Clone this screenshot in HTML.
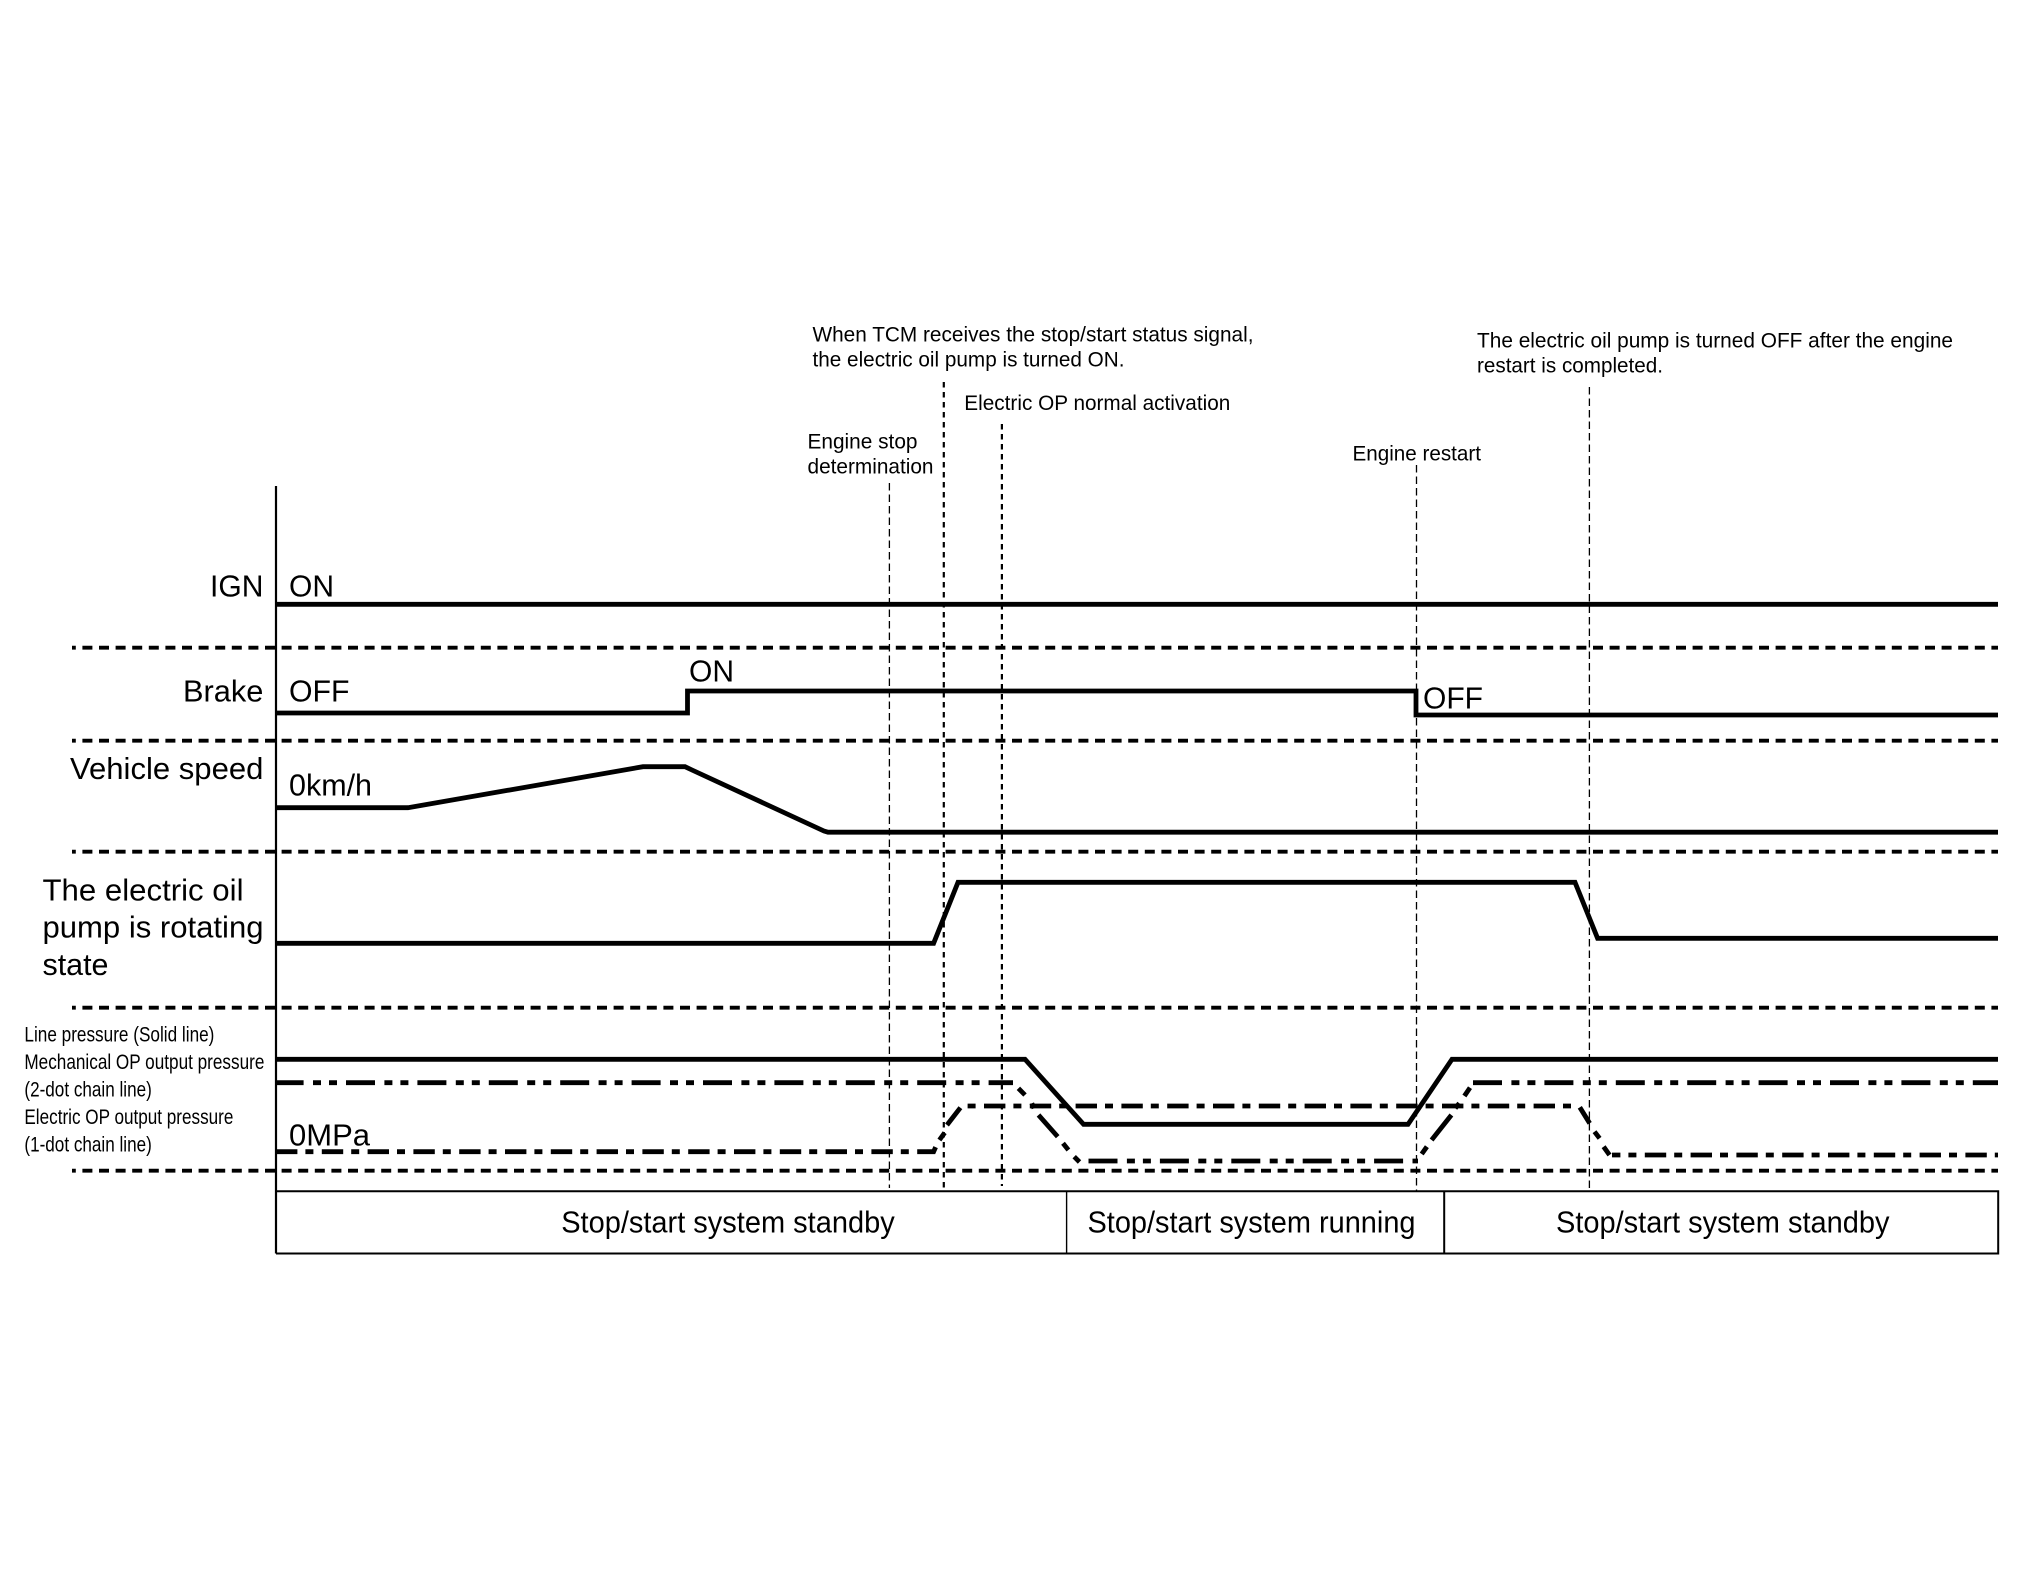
<!DOCTYPE html>
<html>
<head>
<meta charset="utf-8">
<title>Stop/start timing chart</title>
<style>
html,body{margin:0;padding:0;background:#fff}
svg{display:block}
text{font-family:"Liberation Sans",Arial,sans-serif;fill:#000}
.l{font-size:31px}
.m{font-size:21.5px}
.s{font-size:21.5px}
.t{fill:none;stroke:#000;stroke-width:4.8;stroke-linejoin:miter}
.h{fill:none;stroke:#000;stroke-width:3.8;stroke-dasharray:10 6.6}
.v1{fill:none;stroke:#000;stroke-width:1.3;stroke-dasharray:7.5 4}
.v2{fill:none;stroke:#000;stroke-width:2.2;stroke-dasharray:5.5 4.5}
.d2{stroke-dasharray:29 9.4 8 8 8 9}
.d1{stroke-dasharray:21.4 8 8 8.4}
</style>
</head>
<body>
<svg width="2020" height="1571" viewBox="0 0 2020 1571" xmlns="http://www.w3.org/2000/svg">
<rect width="2020" height="1571" fill="#fff"/>

<!-- dashed separators -->
<path class="h" stroke-dashoffset="6.2" d="M72 647.7H1998"/>
<path class="h" stroke-dashoffset="6.2" d="M72 740.7H1998"/>
<path class="h" stroke-dashoffset="6.2" d="M72 851.7H1998"/>
<path class="h" stroke-dashoffset="6.2" d="M72 1007.7H1998"/>
<path class="h" stroke-dashoffset="6.2" d="M72 1170.7H1998"/>

<!-- vertical markers -->
<path class="v1" d="M889.4 483V1188"/>
<path class="v2" d="M943.8 382V1191"/>
<path class="v2" d="M1001.9 424V1186"/>
<path class="v1" d="M1416.5 465V1191"/>
<path class="v1" d="M1589.4 387V1191"/>

<!-- axis and bottom box -->
<path d="M276 486V1253.5" stroke="#000" stroke-width="2.2" fill="none"/>
<path d="M276 1191.3H1998.2V1253.5H276" stroke="#000" stroke-width="2" fill="none"/>
<path d="M1066.6 1191V1253" stroke="#000" stroke-width="1.4" fill="none"/>
<path d="M1444.2 1191V1253" stroke="#000" stroke-width="2" fill="none"/>

<!-- signals -->
<path class="t" d="M276 604.3H1998"/>
<path class="t" d="M276 713H687.5V691H1416V715H1998"/>
<path class="t" d="M276 807.7H408L643 766.7H685L692 770L824 831L828 832.2H1998"/>
<path class="t" d="M276 943.3H933.6L958 882.3H1575L1597.6 938.3H1998"/>
<path class="t" d="M276 1059.3H1025L1083.6 1124.3H1408L1452 1059.3H1998"/>

<!-- mechanical OP (2-dot chain) -->
<path class="t d2" stroke-dashoffset="1.4" d="M276 1082.7H1013"/>
<path class="t" d="M1018.4 1088.3L1025 1095M1031.8 1103.3L1034 1108.3M1038.5 1115L1057.7 1136.7M1063 1143.3L1068.4 1150M1074.2 1156.7L1079.5 1162"/>
<path class="t d2" d="M1088.5 1161H1418"/>
<path class="t" d="M1421.7 1154L1426.9 1146.7M1431.6 1140L1451.4 1115M1455.3 1108.3L1459.3 1103.3M1464.4 1096L1470 1087.7"/>
<path class="t d2" d="M1473 1082.7H1998"/>

<!-- electric OP (1-dot chain) -->
<path class="t d1" d="M276 1151.7H933.6L937 1144"/>
<path class="t" d="M939.4 1140L944.7 1132.7M947 1125L960.4 1107.7"/>
<path class="t d1" stroke-dashoffset="28.8" d="M967 1106H1574"/>
<path class="t" d="M1579.8 1107.3L1589.7 1123.3M1594.5 1131.7L1599.6 1138.3M1603.6 1146.7L1609.5 1155"/>
<path class="t d1" stroke-dashoffset="13" d="M1612 1155H1998"/>

<!-- left labels -->
<text class="l" x="210" y="596.7" textLength="53.4" lengthAdjust="spacingAndGlyphs">IGN</text>
<text class="l" x="289" y="596.7" textLength="45" lengthAdjust="spacingAndGlyphs">ON</text>
<text class="l" x="183" y="701.7" textLength="80.4" lengthAdjust="spacingAndGlyphs">Brake</text>
<text class="l" x="289" y="701.7" textLength="60.5" lengthAdjust="spacingAndGlyphs">OFF</text>
<text class="l" x="689" y="681.4" textLength="45" lengthAdjust="spacingAndGlyphs">ON</text>
<text class="l" x="1423" y="708.3" textLength="60" lengthAdjust="spacingAndGlyphs">OFF</text>
<text class="l" x="70" y="779" textLength="193.4" lengthAdjust="spacingAndGlyphs">Vehicle speed</text>
<text class="l" x="289" y="795.7" textLength="83" lengthAdjust="spacingAndGlyphs">0km/h</text>
<text class="l" x="42.5" y="900.7" textLength="201" lengthAdjust="spacingAndGlyphs">The electric oil</text>
<text class="l" x="42.5" y="937.7" textLength="221" lengthAdjust="spacingAndGlyphs">pump is rotating</text>
<text class="l" x="42.5" y="975" textLength="66" lengthAdjust="spacingAndGlyphs">state</text>
<text class="l" x="289" y="1145.7" textLength="81" lengthAdjust="spacingAndGlyphs">0MPa</text>

<text class="s" x="24.4" y="1041.7" textLength="190" lengthAdjust="spacingAndGlyphs">Line pressure (Solid line)</text>
<text class="s" x="24.4" y="1069" textLength="240" lengthAdjust="spacingAndGlyphs">Mechanical OP output pressure</text>
<text class="s" x="24.4" y="1096.7" textLength="127.4" lengthAdjust="spacingAndGlyphs">(2-dot chain line)</text>
<text class="s" x="24.4" y="1124" textLength="209" lengthAdjust="spacingAndGlyphs">Electric OP output pressure</text>
<text class="s" x="24.4" y="1151.7" textLength="127.4" lengthAdjust="spacingAndGlyphs">(1-dot chain line)</text>

<!-- state labels -->
<text class="l" x="561.2" y="1232.3" textLength="333.5" lengthAdjust="spacingAndGlyphs">Stop/start system standby</text>
<text class="l" x="1087.5" y="1232.3" textLength="328" lengthAdjust="spacingAndGlyphs">Stop/start system running</text>
<text class="l" x="1556" y="1232.3" textLength="333.5" lengthAdjust="spacingAndGlyphs">Stop/start system standby</text>

<!-- annotations -->
<text class="m" x="812.5" y="341.7" textLength="441" lengthAdjust="spacingAndGlyphs">When TCM receives the stop/start status signal,</text>
<text class="m" x="812.5" y="366.7" textLength="312" lengthAdjust="spacingAndGlyphs">the electric oil pump is turned ON.</text>
<text class="m" x="964.3" y="410" textLength="266" lengthAdjust="spacingAndGlyphs">Electric OP normal activation</text>
<text class="m" x="807.5" y="448.3" textLength="110" lengthAdjust="spacingAndGlyphs">Engine stop</text>
<text class="m" x="807.5" y="473.3" textLength="126" lengthAdjust="spacingAndGlyphs">determination</text>
<text class="m" x="1352.5" y="460.7" textLength="128.5" lengthAdjust="spacingAndGlyphs">Engine restart</text>
<text class="m" x="1477" y="347.3" textLength="476" lengthAdjust="spacingAndGlyphs">The electric oil pump is turned OFF after the engine</text>
<text class="m" x="1477" y="372.3" textLength="186" lengthAdjust="spacingAndGlyphs">restart is completed.</text>
</svg>
</body>
</html>
